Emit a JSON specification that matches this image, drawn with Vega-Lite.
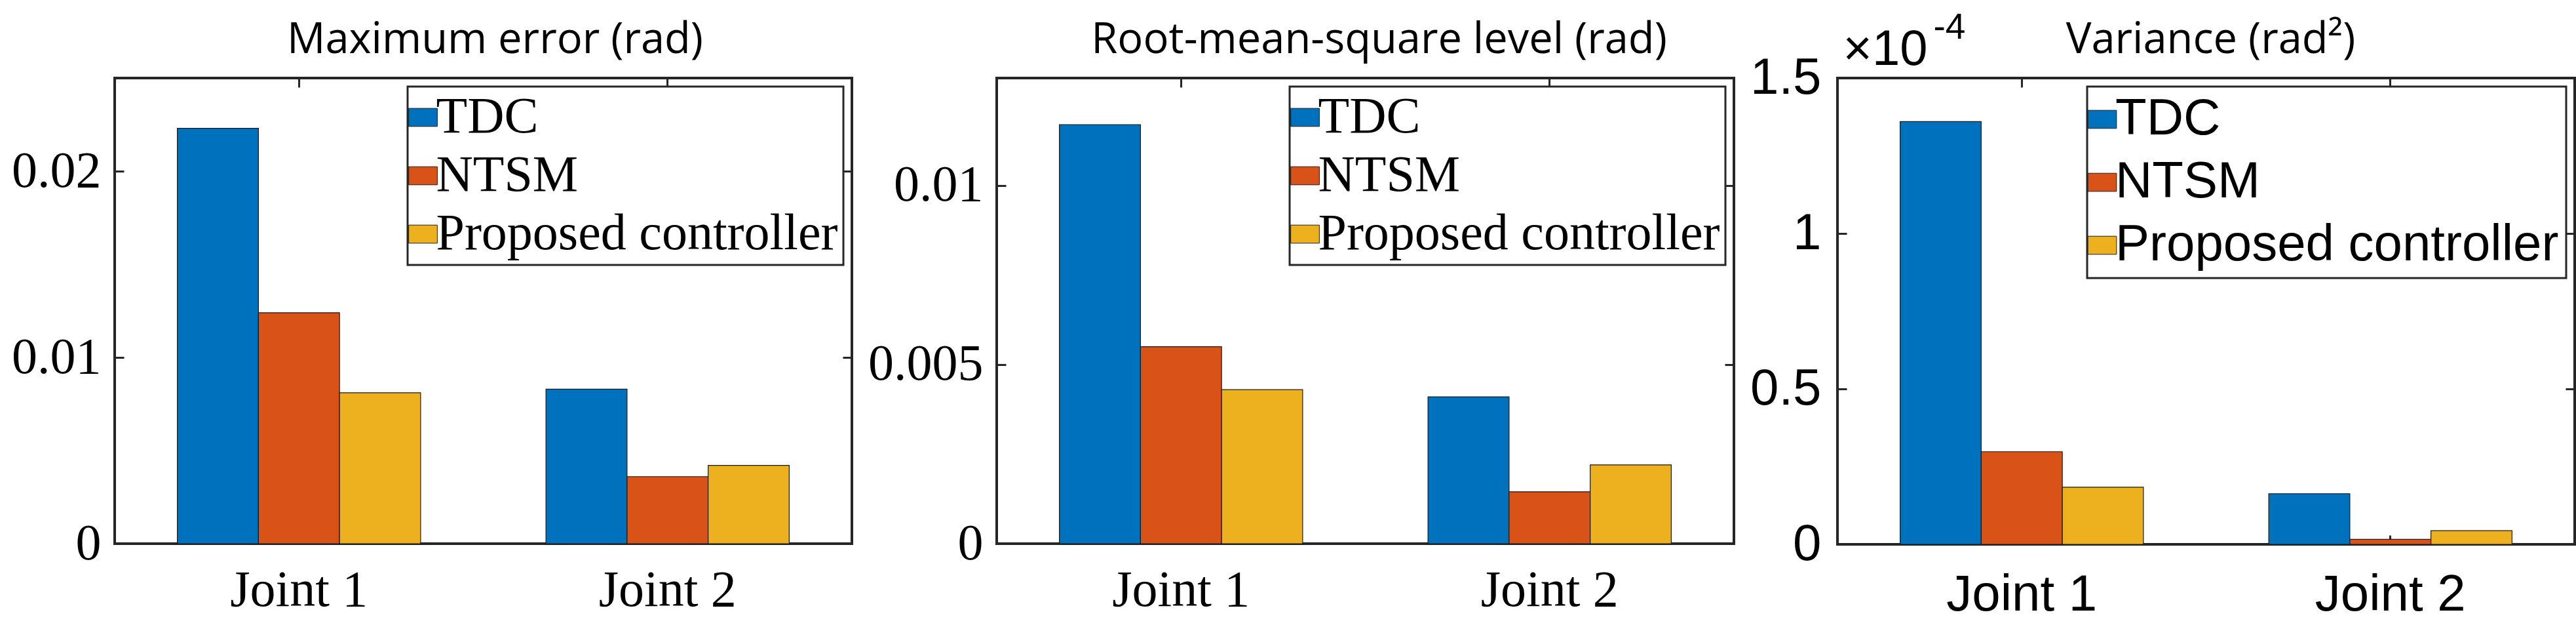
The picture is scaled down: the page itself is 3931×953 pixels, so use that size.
{
  "$schema": "https://vega.github.io/schema/vega-lite/v6.json",
  "background": "white",
  "padding": {"left": 15, "top": 12, "right": 10, "bottom": 5},
  "spacing": 18,
  "resolve": {"scale": {"color": "independent"}, "legend": {"color": "independent"}},
  "datasets": {
    "maxerr": [
      {"joint": "Joint 1", "method": "TDC", "value": 0.0223},
      {"joint": "Joint 1", "method": "NTSM", "value": 0.0124},
      {"joint": "Joint 1", "method": "Proposed controller", "value": 0.0081},
      {"joint": "Joint 2", "method": "TDC", "value": 0.0083},
      {"joint": "Joint 2", "method": "NTSM", "value": 0.0036},
      {"joint": "Joint 2", "method": "Proposed controller", "value": 0.0042}
    ],
    "rms": [
      {"joint": "Joint 1", "method": "TDC", "value": 0.0117},
      {"joint": "Joint 1", "method": "NTSM", "value": 0.0055},
      {"joint": "Joint 1", "method": "Proposed controller", "value": 0.0043},
      {"joint": "Joint 2", "method": "TDC", "value": 0.0041},
      {"joint": "Joint 2", "method": "NTSM", "value": 0.00145},
      {"joint": "Joint 2", "method": "Proposed controller", "value": 0.0022}
    ],
    "variance": [
      {"joint": "Joint 1", "method": "TDC", "value": 0.000136},
      {"joint": "Joint 1", "method": "NTSM", "value": 0.0000298},
      {"joint": "Joint 1", "method": "Proposed controller", "value": 0.0000184},
      {"joint": "Joint 2", "method": "TDC", "value": 0.0000163},
      {"joint": "Joint 2", "method": "NTSM", "value": 0.0000016},
      {"joint": "Joint 2", "method": "Proposed controller", "value": 0.0000044}
    ]
  },
  "config": {
    "view": {"stroke": "#262626", "strokeWidth": 4},
    "axis": {"domain": false, "grid": false, "tickColor": "#262626", "tickWidth": 3, "tickSize": -14, "labelColor": "black", "labelFontSize": 78, "labelLimit": 2000, "titleLimit": 3000},
    "legend": {"orient": "top-right", "offset": 13, "title": null, "labelLimit": 2000, "labelColor": "black", "symbolType": "M-0.95,-0.6H0.95V0.6H-0.95Z", "symbolSize": 2116, "symbolStrokeColor": "#1a1a1a", "symbolStrokeWidth": 1, "symbolOpacity": 1, "strokeColor": "#262626", "strokeWidth": 3, "fillColor": "white"}
  },
  "hconcat": [
    {
      "width": 1125, "height": 710,
      "data": {"name": "maxerr"},
      "layer": [
        {
          "mark": {"type": "bar", "stroke": "#1a1a1a", "strokeWidth": 1.2},
          "encoding": {
            "x": {"field": "joint", "type": "nominal", "sort": ["Joint 1", "Joint 2"], "scale": {"paddingInner": 0.34, "paddingOuter": 0.17}, "axis": {"title": null, "labelAngle": 0, "labelFont": "Liberation Serif", "labelBaseline": "alphabetic", "labelPadding": 108}},
            "xOffset": {"field": "method", "type": "nominal", "sort": ["TDC", "NTSM", "Proposed controller"]},
            "y": {"field": "value", "type": "quantitative", "scale": {"domain": [0, 0.025], "nice": false}, "axis": {"title": null, "values": [0, 0.01, 0.02], "format": "~g", "labelFont": "Liberation Serif", "labelPadding": 35}},
            "color": {"field": "method", "type": "nominal", "sort": ["TDC", "NTSM", "Proposed controller"], "scale": {"domain": ["TDC", "NTSM", "Proposed controller"], "range": ["#0072BD", "#D95319", "#EDB120"]}, "legend": {"labelFont": "Liberation Serif", "labelFontSize": 78, "labelOffset": -19, "symbolOffset": -23.5, "rowPadding": 11, "padding": 8}}
          }
        },
        {
          "mark": {"type": "point", "opacity": 0},
          "encoding": {
            "x": {"field": "joint", "type": "nominal", "sort": ["Joint 1", "Joint 2"], "scale": {"paddingInner": 0.34, "paddingOuter": 0.17}, "axis": {"orient": "top", "labels": false, "title": "Maximum error (rad)", "titleFont": "Open Sans", "titleFontSize": 65, "titleFontWeight": "normal", "titleColor": "black", "titleX": 580, "titleY": -39, "titleAlign": "center", "titleBaseline": "alphabetic", "titleAngle": 0}},
            "y": {"field": "value", "type": "quantitative", "scale": {"domain": [0, 0.025], "nice": false}, "axis": {"orient": "right", "labels": false, "title": null, "values": [0, 0.01, 0.02]}}
          }
        }
      ],
      "resolve": {"axis": {"x": "independent", "y": "independent"}}
    },
    {
      "width": 1125, "height": 710,
      "data": {"name": "rms"},
      "layer": [
        {
          "mark": {"type": "bar", "stroke": "#1a1a1a", "strokeWidth": 1.2},
          "encoding": {
            "x": {"field": "joint", "type": "nominal", "sort": ["Joint 1", "Joint 2"], "scale": {"paddingInner": 0.34, "paddingOuter": 0.17}, "axis": {"title": null, "labelAngle": 0, "labelFont": "Liberation Serif", "labelBaseline": "alphabetic", "labelPadding": 108}},
            "xOffset": {"field": "method", "type": "nominal", "sort": ["TDC", "NTSM", "Proposed controller"]},
            "y": {"field": "value", "type": "quantitative", "scale": {"domain": [0, 0.013], "nice": false}, "axis": {"title": null, "values": [0, 0.005, 0.01], "format": "~g", "labelFont": "Liberation Serif", "labelPadding": 35}},
            "color": {"field": "method", "type": "nominal", "sort": ["TDC", "NTSM", "Proposed controller"], "scale": {"domain": ["TDC", "NTSM", "Proposed controller"], "range": ["#0072BD", "#D95319", "#EDB120"]}, "legend": {"labelFont": "Liberation Serif", "labelFontSize": 78, "labelOffset": -19, "symbolOffset": -23.5, "rowPadding": 11, "padding": 8}}
          }
        },
        {
          "mark": {"type": "point", "opacity": 0},
          "encoding": {
            "x": {"field": "joint", "type": "nominal", "sort": ["Joint 1", "Joint 2"], "scale": {"paddingInner": 0.34, "paddingOuter": 0.17}, "axis": {"orient": "top", "labels": false, "title": "Root-mean-square level (rad)", "titleFont": "Open Sans", "titleFontSize": 65, "titleFontWeight": "normal", "titleColor": "black", "titleX": 583, "titleY": -39, "titleAlign": "center", "titleBaseline": "alphabetic", "titleAngle": 0}},
            "y": {"field": "value", "type": "quantitative", "scale": {"domain": [0, 0.013], "nice": false}, "axis": {"orient": "right", "labels": false, "title": null, "values": [0, 0.005, 0.01]}}
          }
        }
      ],
      "resolve": {"axis": {"x": "independent", "y": "independent"}}
    },
    {
      "width": 1125, "height": 711,
      "data": {"name": "variance"},
      "layer": [
        {
          "mark": {"type": "bar", "stroke": "#1a1a1a", "strokeWidth": 1.2},
          "encoding": {
            "x": {"field": "joint", "type": "nominal", "sort": ["Joint 1", "Joint 2"], "scale": {"paddingInner": 0.34, "paddingOuter": 0.17}, "axis": {"title": null, "labelAngle": 0, "labelFont": "Liberation Sans", "labelBaseline": "alphabetic", "labelPadding": 114}},
            "xOffset": {"field": "method", "type": "nominal", "sort": ["TDC", "NTSM", "Proposed controller"]},
            "y": {"field": "value", "type": "quantitative", "scale": {"domain": [0, 0.00015], "nice": false}, "axis": {"title": "×10", "titleAngle": 0, "titleX": 8, "titleY": -21, "titleAlign": "left", "titleBaseline": "alphabetic", "titleFont": "Liberation Sans", "titleFontSize": 76, "titleFontWeight": "normal", "titleColor": "black", "values": [0, 0.00005, 0.0001, 0.00015], "labelExpr": "format(datum.value * 10000, '~g')", "labelFont": "Liberation Sans", "labelPadding": 39}},
            "color": {"field": "method", "type": "nominal", "sort": ["TDC", "NTSM", "Proposed controller"], "scale": {"domain": ["TDC", "NTSM", "Proposed controller"], "range": ["#0072BD", "#D95319", "#EDB120"]}, "legend": {"labelFont": "Liberation Sans", "labelFontSize": 78, "labelOffset": -19, "symbolOffset": -27, "rowPadding": 18, "padding": 11}}
          }
        },
        {
          "mark": {"type": "point", "opacity": 0},
          "encoding": {
            "x": {"field": "joint", "type": "nominal", "sort": ["Joint 1", "Joint 2"], "scale": {"paddingInner": 0.34, "paddingOuter": 0.17}, "axis": {"orient": "top", "labels": false, "title": "Variance (rad²)", "titleFont": "Open Sans", "titleFontSize": 65, "titleFontWeight": "normal", "titleColor": "black", "titleX": 569, "titleY": -39, "titleAlign": "center", "titleBaseline": "alphabetic", "titleAngle": 0}},
            "y": {"field": "value", "type": "quantitative", "scale": {"domain": [0, 0.00015], "nice": false}, "axis": {"orient": "right", "labels": false, "values": [0, 0.00005, 0.0001, 0.00015], "title": "-4", "titleAngle": 0, "titleX": -979, "titleY": -61, "titleAlign": "left", "titleBaseline": "alphabetic", "titleFont": "Liberation Sans", "titleFontSize": 55, "titleFontWeight": "normal", "titleColor": "black"}}
          }
        }
      ],
      "resolve": {"axis": {"x": "independent", "y": "independent"}}
    }
  ]
}
